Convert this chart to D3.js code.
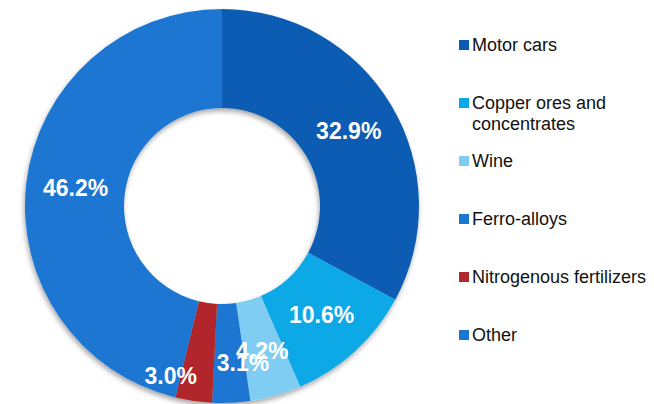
<!DOCTYPE html>
<html>
<head>
<meta charset="utf-8">
<script src="https://cdn.jsdelivr.net/npm/d3@7"></script>
<style>
  body { margin: 0; background: #fff; }
  svg { display: block; font-family: "Liberation Sans", Arial, sans-serif; }
</style>
</head>
<body>
<svg id="chart"></svg>
<script>
// data
let categories = ["Motor cars", "Copper ores and concentrates", "Wine", "Ferro-alloys", "Nitrogenous fertilizers", "Other"];
let shares = [32.9, 10.6, 4.2, 3.1, 3.0, 46.2];
let colors = ["#0b5bb4", "#0aa9e6", "#80cdf4", "#1a76d2", "#b0282c", "#1a76d2"];

let width = 654, height = 404;
let cx = 222, cy = 206;
let outerR = 197, innerR = 98;

let svg = d3.select("#chart").attr("width", width).attr("height", height);

// soft shadow round the ring
let defs = svg.append("defs");
defs.append("filter")
  .attr("id", "shadow")
  .attr("x", "-10%").attr("y", "-10%").attr("width", "120%").attr("height", "120%")
  .append("feDropShadow")
  .attr("dx", -1).attr("dy", 3)
  .attr("stdDeviation", 2.5)
  .attr("flood-color", "#000")
  .attr("flood-opacity", 0.35);

let pie = d3.pie().sort(null).value((d) => d.value);
let arc = d3.arc().innerRadius(innerR).outerRadius(outerR);
let labelArc = d3.arc().innerRadius((innerR + outerR) / 2).outerRadius((innerR + outerR) / 2);

let data = categories.map((c, i) => ({ name: c, value: shares[i], color: colors[i] }));
let arcs = pie(data);

let g = svg.append("g").attr("transform", "translate(" + cx + "," + cy + ")");

g.append("g")
  .attr("filter", "url(#shadow)")
  .selectAll("path")
  .data(arcs)
  .enter()
  .append("path")
  .attr("d", arc)
  .attr("fill", (d) => d.data.color);

// small slices get their labels nudged (the reference lets 4.2% and 3.1% touch)
let nudge = { "Wine": [0, 3], "Ferro-alloys": [14, 10], "Nitrogenous fertilizers": [-30, 24] };

g.selectAll("text.pct")
  .data(arcs)
  .enter()
  .append("text")
  .attr("class", "pct")
  .attr("transform", (d) => {
    let p = labelArc.centroid(d);
    let n = nudge[d.data.name] || [0, 0];
    return "translate(" + (p[0] + n[0]) + "," + (p[1] + n[1]) + ")";
  })
  .attr("text-anchor", "middle")
  .attr("dy", "0.35em")
  .style("font-size", "23px")
  .style("font-weight", "bold")
  .style("fill", "#fff")
  .text((d) => d.data.value.toFixed(1) + "%");

// legend
let legend = svg.append("g").attr("transform", "translate(459,45)");
let rowScale = d3.scaleBand().domain(categories).range([0, 348]);

let item = legend.selectAll("g.item")
  .data(data)
  .enter()
  .append("g")
  .attr("class", "item")
  .attr("transform", (d) => "translate(0," + rowScale(d.name) + ")");

item.append("rect")
  .attr("x", 0).attr("y", -5)
  .attr("width", 10).attr("height", 10)
  .attr("fill", (d) => d.color);

item.append("text")
  .style("font-size", "18px")
  .style("fill", "#111")
  .each(function (d) {
    let t = d3.select(this);
    let lines = d.name == "Copper ores and concentrates" ? ["Copper ores and", "concentrates"] : [d.name];
    lines.forEach((l, i) => {
      t.append("tspan").attr("x", 13).attr("dy", i == 0 ? "0.35em" : "21px").text(l);
    });
  });
</script>
</body>
</html>
